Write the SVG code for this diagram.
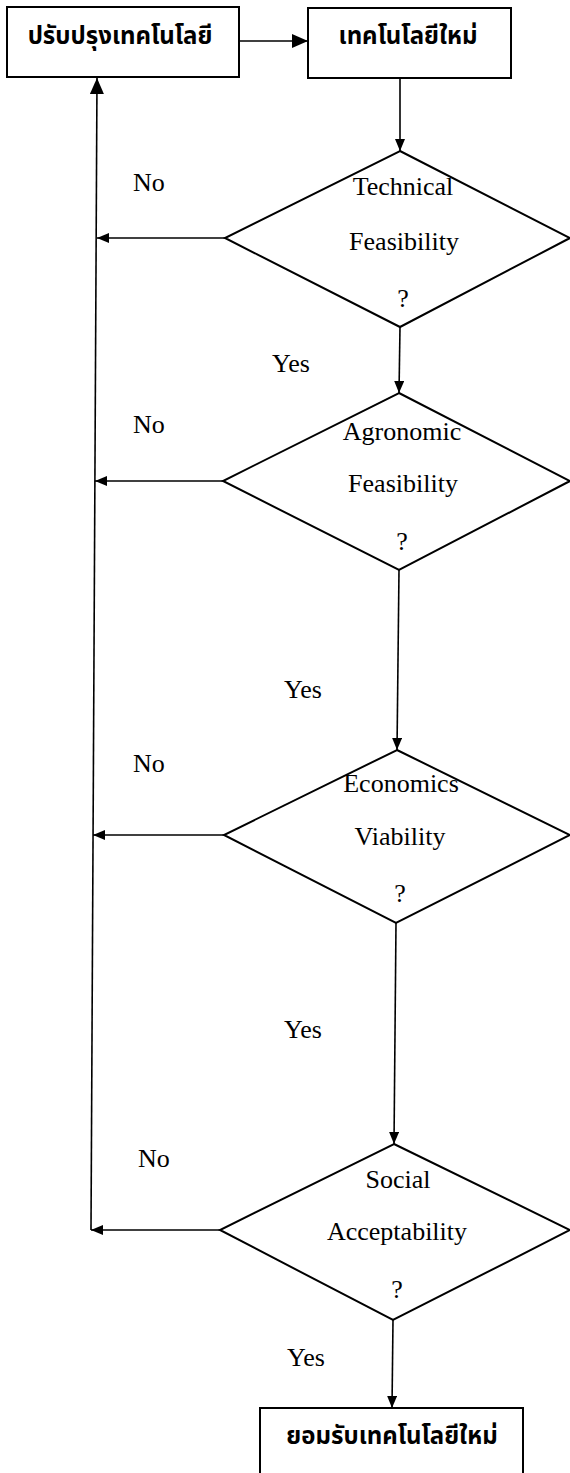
<svg xmlns="http://www.w3.org/2000/svg" width="570" height="1473" viewBox="0 0 570 1473">
<defs>
<marker id="ah" viewBox="0 0 12 10" refX="12" refY="5" markerWidth="12" markerHeight="10" markerUnits="userSpaceOnUse" orient="auto"><path d="M0,0 L12,5 L0,10 Z" fill="#000"/></marker>
<marker id="ahb" viewBox="0 0 16 14" refX="16" refY="7" markerWidth="16" markerHeight="14" markerUnits="userSpaceOnUse" orient="auto"><path d="M0,0 L16,7 L0,14 Z" fill="#000"/></marker>
</defs>
<style>
.box{fill:#fff;stroke:#000;stroke-width:2}
.dia{fill:#fff;stroke:#000;stroke-width:2}
.c{fill:none;stroke:#000;stroke-width:1.6}
.th{font-family:"Noto Sans Thai","Noto Sans","DejaVu Sans",sans-serif;font-weight:bold;font-size:24px;fill:#000}
.t{font-family:"Liberation Serif",serif;font-size:26px;fill:#000}
</style>
<rect width="570" height="1473" fill="#fff"/>
<g id="connectors">
<path class="c" d="M239,41 L308,41" marker-end="url(#ahb)"/>
<path class="c" d="M400,78 L400,151" marker-end="url(#ah)"/>
<path class="c" d="M400,327 L399,393" marker-end="url(#ah)"/>
<path class="c" d="M399,570 L397,750" marker-end="url(#ah)"/>
<path class="c" d="M396,923 L394,1144" marker-end="url(#ah)"/>
<path class="c" d="M393,1320 L392,1408" marker-end="url(#ah)"/>
<path class="c" d="M225,238 L97,238" marker-end="url(#ah)"/>
<path class="c" d="M223,481 L95,481" marker-end="url(#ah)"/>
<path class="c" d="M224,835 L93,835" marker-end="url(#ah)"/>
<path class="c" d="M220,1230 L91,1230" marker-end="url(#ah)"/>
<path class="c" d="M91,1230 L97,78" marker-end="url(#ahb)"/>
<text class="t" x="133" y="191">No</text>
<text class="t" x="133" y="433">No</text>
<text class="t" x="133" y="772">No</text>
<text class="t" x="138" y="1167">No</text>
<text class="t" x="272" y="372">Yes</text>
<text class="t" x="284" y="698">Yes</text>
<text class="t" x="284" y="1038">Yes</text>
<text class="t" x="287" y="1366">Yes</text>
</g>
<g id="n1">
<rect class="box" x="7" y="7" width="232" height="70"/>
<text class="th" x="120" y="44" text-anchor="middle">ปรับปรุงเทคโนโลยี</text>
</g>
<g id="n2">
<rect class="box" x="308" y="8" width="203" height="70"/>
<text class="th" x="408" y="44" text-anchor="middle">เทคโนโลยีใหม่</text>
</g>
<g id="d1">
<polygon class="dia" points="400,151 570,238 400,327 225,238"/>
<text class="t" x="403" y="195" text-anchor="middle">Technical</text>
<text class="t" x="404" y="250" text-anchor="middle">Feasibility</text>
<text class="t" x="403" y="307" text-anchor="middle">?</text>
</g>
<g id="d2">
<polygon class="dia" points="399,393 570,481 399,570 223,481"/>
<text class="t" x="402" y="440" text-anchor="middle">Agronomic</text>
<text class="t" x="403" y="492" text-anchor="middle">Feasibility</text>
<text class="t" x="402" y="550" text-anchor="middle">?</text>
</g>
<g id="d3">
<polygon class="dia" points="397,750 570,835 396,923 224,835"/>
<text class="t" x="401" y="792" text-anchor="middle">Economics</text>
<text class="t" x="400" y="845" text-anchor="middle">Viability</text>
<text class="t" x="400" y="902" text-anchor="middle">?</text>
</g>
<g id="d4">
<polygon class="dia" points="394,1144 570,1230 393,1320 220,1230"/>
<text class="t" x="398" y="1188" text-anchor="middle">Social</text>
<text class="t" x="397" y="1240" text-anchor="middle">Acceptability</text>
<text class="t" x="397" y="1298" text-anchor="middle">?</text>
</g>
<g id="n3">
<path class="box" d="M260,1480 L260,1408 L523,1408 L523,1480"/>
<text class="th" x="392" y="1444" text-anchor="middle">ยอมรับเทคโนโลยีใหม่</text>
</g>
</svg>
